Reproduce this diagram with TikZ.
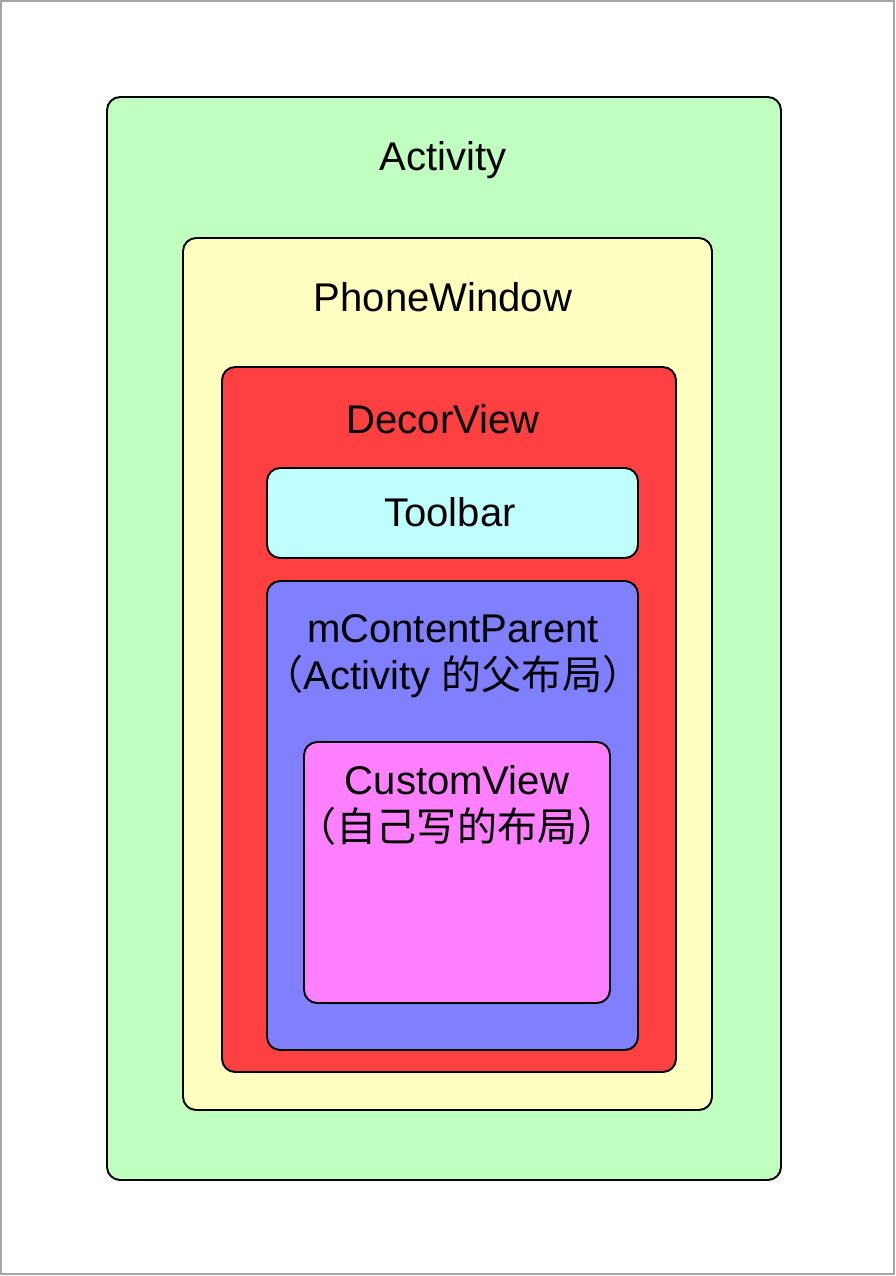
\documentclass[tikz,border=0pt]{standalone}
\usepackage{fontspec}
\setmainfont{Liberation Sans}
\newfontfamily\cjk{Noto Sans CJK SC}
\definecolor{actgreen}{HTML}{C0FFC0}
\definecolor{winyellow}{HTML}{FFFFC0}
\definecolor{decorred}{HTML}{FF4040}
\definecolor{barcyan}{HTML}{C0FFFF}
\definecolor{parentblue}{HTML}{8080FF}
\definecolor{custompink}{HTML}{FF80FF}
\tikzset{
  layer/.style={draw=black,line width=1.1pt,rounded corners=7.5pt},
  lbl/.style={inner sep=0pt,anchor=base,font=\fontsize{22.8}{27}\selectfont,align=center}
}
\begin{document}
\begin{tikzpicture}[x=0.02cm,y=-0.02cm]
      \useasboundingbox (0,0) rectangle (896,1276);
      \draw[black!35,line width=1.1pt] (1,1) rectangle (894,1274);
      % nested layers
      \draw[layer,fill=actgreen] (107,97) rectangle (781,1180);
      \draw[layer,fill=winyellow] (183,238) rectangle (712,1110);
      \draw[layer,fill=decorred] (222,367) rectangle (676,1072);
      \draw[layer,fill=barcyan] (267,468) rectangle (638,558);
      \draw[layer,fill=parentblue] (267,581) rectangle (638,1050);
      \draw[layer,fill=custompink] (304,742) rectangle (610,1003);
      % labels
      \node[lbl] (activity) at (443,170) {Activity};
      \node[lbl] (phonewindow) at (443,311) {PhoneWindow};
      \node[lbl] (decorview) at (443,433) {DecorView};
      \node[lbl] (toolbar) at (450,526) {Toolbar};
      \node[lbl] (parent) at (453,642) {mContentParent};
      \node[lbl] (parentnote) at (453,689) {{\cjk （}Activity {\cjk 的父布局）}};
      \node[lbl] (customview) at (457,794) {CustomView};
      \node[lbl] (customnote) at (457,841) {\cjk （自己写的布局）};
\end{tikzpicture}
\end{document}
